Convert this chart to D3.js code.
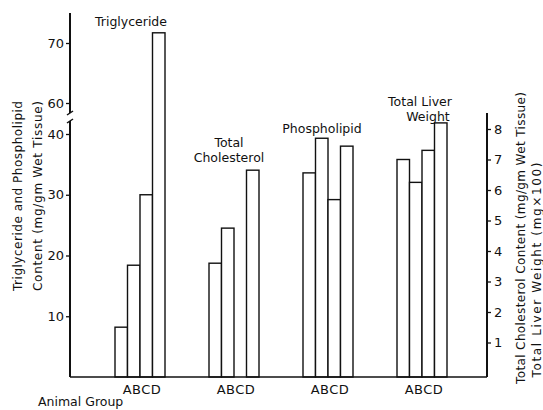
<!DOCTYPE html>
<html>
<head>
<meta charset="utf-8">
<script src="https://cdn.jsdelivr.net/npm/d3@7"></script>
<style>
  body { margin: 0; background: #fff; }
  svg text { font-family: "DejaVu Sans", sans-serif; fill: #111; }
</style>
</head>
<body>
<svg id="chart" width="543" height="410"></svg>
<script>
// data
var groups = ["Triglyceride", "Total Cholesterol", "Phospholipid", "Total Liver Weight"];
var animalGroups = ["A", "B", "C", "D"];
var triglyceride = [8.2, 18.4, 30.0, 71.7];
var cholesterol = [3.6, 4.75, null, 6.65];
var phospholipid = [33.6, 39.3, 29.2, 38.0];
var liverWeight = [7.0, 6.25, 7.3, 8.2];
var leftTicksLow = [10, 20, 30, 40];
var leftTicksHigh = [60, 70];
var rightTicks = [1, 2, 3, 4, 5, 6, 7, 8];

var series = [
	{name: groups[0], values: triglyceride, axis: "left", label: ["Triglyceride"], lx: 131, ly: 26, off: 0},
	{name: groups[1], values: cholesterol, axis: "right", label: ["Total", "Cholesterol"], lx: 229, ly: 147, off: 0},
	{name: groups[2], values: phospholipid, axis: "left", label: ["Phospholipid"], lx: 322, ly: 133, off: 0},
	{name: groups[3], values: liverWeight, axis: "right", label: ["Total Liver", "Weight"], lx: 420, ly: 106, off: 8}
];

var svg = d3.select("#chart");
var base = 377;
var xLeft = 70, xRight = 487;

// broken left scale: 0-40 below the break, 60-75 above it
var yLow = d3.scaleLinear().domain([0, 40]).range([base, 134]);
var yHigh = d3.scaleLinear().domain([60, 70]).range([103, 43]);
var yLeft = function(v) { return v > 40 ? yHigh(v) : yLow(v); };
var yRight = d3.scaleLinear().domain([0, 8]).range([373, 129]);

var xGroup = d3.scaleBand().domain(groups).range([93, 469]).padding(0);
var xBar = d3.scaleBand().domain(animalGroups).range([0, 50]).padding(0);

// bars
series.forEach(function(s) {
	var x0 = xGroup(s.name) + xGroup.bandwidth() / 2 - 25;
	var y = s.axis == "left" ? yLeft : yRight;
	var data = animalGroups.map(function(k, i) { return {k: k, v: s.values[i]}; })
		.filter(function(d) { return d.v != null; });
	svg.append("g").selectAll("rect")
		.data(data)
		.enter().append("rect")
		.attr("x", function(d) { return x0 + xBar(d.k); })
		.attr("y", function(d) { return y(d.v); })
		.attr("width", xBar.bandwidth())
		.attr("height", function(d) { return base - y(d.v); })
		.attr("fill", "#fff")
		.attr("stroke", "#111")
		.attr("stroke-width", 1.4);

	var lab = svg.append("text")
		.attr("x", s.lx)
		.attr("y", s.ly)
		.attr("text-anchor", "middle")
		.style("font-size", "12.5px");
	s.label.forEach(function(t, i) {
		lab.append("tspan").attr("x", s.lx + (i > 0 ? s.off : 0))
			.attr("dy", i == 0 ? 0 : 15).text(t);
	});

	svg.append("text")
		.attr("x", x0 + 27)
		.attr("y", base + 17)
		.attr("text-anchor", "middle")
		.style("font-size", "13px")
		.style("letter-spacing", "0.5px")
		.text(animalGroups.join(""));
});

// baseline
svg.append("line")
	.attr("x1", xLeft).attr("x2", xRight)
	.attr("y1", base).attr("y2", base)
	.attr("stroke", "#111").attr("stroke-width", 1.6);

// left axis, two segments with a break
svg.append("line")
	.attr("x1", xLeft).attr("x2", xLeft)
	.attr("y1", base).attr("y2", yLow(40) - 13)
	.attr("stroke", "#111").attr("stroke-width", 2);
svg.append("line")
	.attr("x1", xLeft).attr("x2", xLeft)
	.attr("y1", yHigh(60) + 10).attr("y2", yHigh(75))
	.attr("stroke", "#111").attr("stroke-width", 2);
[yHigh(60) + 10, yLow(40) - 13].forEach(function(yy) {
	svg.append("line")
		.attr("x1", xLeft - 3).attr("x2", xLeft + 3)
		.attr("y1", yy + 2).attr("y2", yy - 2)
		.attr("stroke", "#111").attr("stroke-width", 1.5);
});

var tickStyle = function(g) {
	g.select(".domain").remove();
	g.selectAll("line").attr("stroke", "#111").attr("stroke-width", 1.3);
	g.selectAll("text").style("font-size", "13px").style("font-family", "DejaVu Sans, sans-serif");
};

svg.append("g").attr("transform", "translate(" + xLeft + ",0)")
	.call(d3.axisLeft(yLow).tickValues(leftTicksLow).tickSize(4).tickPadding(2).tickFormat(d3.format("d")))
	.call(tickStyle);
svg.append("g").attr("transform", "translate(" + xLeft + ",0)")
	.call(d3.axisLeft(yHigh).tickValues(leftTicksHigh).tickSize(4).tickPadding(2).tickFormat(d3.format("d")))
	.call(tickStyle);

// right axis
svg.append("line")
	.attr("x1", xRight).attr("x2", xRight)
	.attr("y1", base).attr("y2", yRight(8) - 16)
	.attr("stroke", "#111").attr("stroke-width", 2);
svg.append("g").attr("transform", "translate(" + xRight + ",0)")
	.call(d3.axisRight(yRight).tickValues(rightTicks).tickSize(4).tickPadding(3).tickFormat(d3.format("d")))
	.call(tickStyle);

// axis titles
var vtext = function(x, y, t, len) {
	svg.append("text")
		.attr("transform", "translate(" + x + "," + y + ") rotate(-90)")
		.attr("text-anchor", "middle")
		.attr("dy", "0.35em")
		.attr("textLength", len)
		.style("font-size", "12px")
		.text(t);
};
vtext(18, 196, "Triglyceride and Phospholipid", 190);
vtext(38, 196, "Content  (mg/gm  Wet  Tissue)", 190);
vtext(521, 238, "Total Cholesterol  Content  (mg/gm  Wet  Tissue)", 292);
vtext(537, 270, "Total Liver  Weight  (mg\u00d7100)", 215);

svg.append("text")
	.attr("x", 38).attr("y", 406)
	.style("font-size", "12.5px")
	.text("Animal Group");
</script>
</body>
</html>
